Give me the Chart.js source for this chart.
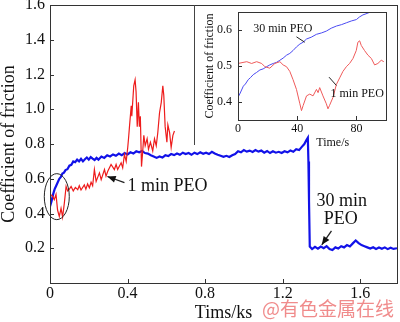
<!DOCTYPE html>
<html>
<head>
<meta charset="utf-8">
<script src="https://cdn.jsdelivr.net/npm/chart.js@4.4.0/dist/chart.umd.min.js"></script>
<style>
  body { margin: 0; background: #fff; }
  #wrap { position: relative; width: 400px; height: 322px; overflow: hidden; }
  #mainChart { position: absolute; left: 0; top: 0; }
  #insetLine { position: absolute; left: 194px; top: 5px; width: 0; height: 140px; border-left: 1px solid #444; }
  #insetChart { position: absolute; left: 195px; top: 6px; }
  #mark { position: absolute; left: 262px; top: 294px; font-size: 19px; font-family: "Noto Sans CJK SC", sans-serif; color: rgba(236, 110, 110, 0.8); white-space: nowrap; }
</style>
</head>
<body>
<div id="wrap">
  <canvas id="mainChart" width="400" height="322"></canvas>
  <div id="insetLine"></div>
  <canvas id="insetChart" width="202" height="143"></canvas>
  <div id="mark">@有色金属在线</div>
</div>
<script>
// main chart: 30 min PEO (blue)
let blueTime = [0.000, 0.008, 0.016, 0.024, 0.032, 0.040, 0.048, 0.056, 0.064, 0.072,
  0.080, 0.090, 0.100, 0.110, 0.120, 0.130, 0.140, 0.150, 0.160, 0.170,
  0.180, 0.190, 0.200, 0.210, 0.220, 0.230, 0.240, 0.250, 0.265, 0.280,
  0.295, 0.310, 0.325, 0.340, 0.355, 0.370, 0.385, 0.400, 0.415, 0.430,
  0.445, 0.460, 0.475, 0.490, 0.505, 0.520, 0.535, 0.550, 0.565, 0.580,
  0.595, 0.610, 0.625, 0.640, 0.655, 0.670, 0.685, 0.700, 0.715, 0.730,
  0.745, 0.760, 0.775, 0.790, 0.805, 0.820, 0.835, 0.850, 0.865, 0.880,
  0.895, 0.910, 0.925, 0.940, 0.955, 0.970, 0.985, 1.000, 1.015, 1.030,
  1.045, 1.060, 1.075, 1.090, 1.105, 1.120, 1.135, 1.150, 1.165, 1.180,
  1.195, 1.210, 1.225, 1.240, 1.255, 1.270, 1.285, 1.300, 1.312, 1.322,
  1.330, 1.333, 1.336, 1.340, 1.352, 1.367, 1.382, 1.397, 1.412, 1.427,
  1.442, 1.457, 1.472, 1.487, 1.502, 1.517, 1.532, 1.547, 1.562, 1.577,
  1.592, 1.607, 1.622, 1.637, 1.652, 1.667, 1.682, 1.697, 1.712, 1.727,
  1.742, 1.757, 1.772, 1.790];
let blueCof = [0.44, 0.47, 0.51, 0.54, 0.56, 0.58, 0.60, 0.61, 0.63, 0.635,
  0.65, 0.655, 0.675, 0.68, 0.70, 0.695, 0.71, 0.70, 0.715, 0.70,
  0.712, 0.722, 0.71, 0.725, 0.716, 0.708, 0.72, 0.71, 0.728, 0.72,
  0.735, 0.728, 0.74, 0.732, 0.745, 0.735, 0.748, 0.74, 0.752, 0.745,
  0.758, 0.752, 0.76, 0.748, 0.745, 0.735, 0.728, 0.72, 0.728, 0.722,
  0.735, 0.73, 0.742, 0.736, 0.745, 0.738, 0.75, 0.742, 0.748, 0.738,
  0.75, 0.742, 0.752, 0.744, 0.75, 0.742, 0.755, 0.745, 0.738, 0.732,
  0.726, 0.732, 0.725, 0.735, 0.742, 0.758, 0.752, 0.765, 0.756, 0.762,
  0.754, 0.765, 0.756, 0.762, 0.75, 0.76, 0.748, 0.758, 0.75, 0.755,
  0.748, 0.758, 0.752, 0.762, 0.755, 0.77, 0.765, 0.785, 0.80, 0.822,
  0.836, 0.70, 0.48, 0.21, 0.195, 0.208, 0.198, 0.21, 0.20, 0.212,
  0.196, 0.19, 0.205, 0.198, 0.212, 0.205, 0.218, 0.21, 0.228, 0.245,
  0.23, 0.218, 0.212, 0.205, 0.198, 0.206, 0.196, 0.204, 0.197, 0.205,
  0.195, 0.203, 0.196, 0.20];

// main chart: 1 min PEO (red)
let redTime = [0.002, 0.013, 0.022, 0.031, 0.039, 0.048, 0.057, 0.065, 0.074, 0.083,
  0.091, 0.100, 0.109, 0.120, 0.131, 0.143, 0.151, 0.160, 0.177, 0.185,
  0.194, 0.203, 0.212, 0.220, 0.229, 0.238, 0.255, 0.264, 0.281, 0.289,
  0.298, 0.315, 0.332, 0.341, 0.349, 0.367, 0.375, 0.384, 0.393, 0.401,
  0.405, 0.410, 0.419, 0.422, 0.432, 0.439, 0.444, 0.450, 0.456, 0.461,
  0.466, 0.472, 0.479, 0.484, 0.491, 0.501, 0.508, 0.518, 0.530, 0.539,
  0.548, 0.556, 0.565, 0.574, 0.582, 0.587, 0.594, 0.603, 0.608, 0.617,
  0.625, 0.634, 0.642];
let redCof = [0.51, 0.50, 0.48, 0.51, 0.42, 0.383, 0.43, 0.38, 0.46, 0.556,
  0.53, 0.54, 0.556, 0.53, 0.55, 0.537, 0.56, 0.535, 0.565, 0.54,
  0.57, 0.548, 0.58, 0.56, 0.653, 0.585, 0.634, 0.595, 0.653, 0.615,
  0.643, 0.682, 0.653, 0.682, 0.653, 0.692, 0.663, 0.74, 0.70, 0.78,
  0.83, 0.90, 1.02, 0.96, 1.135, 1.17, 1.10, 0.90, 1.04, 0.90,
  0.96, 0.67, 0.77, 0.85, 0.79, 0.83, 0.77, 0.81, 0.76, 0.83,
  0.79, 0.865, 0.98, 1.04, 1.135, 1.08, 0.90, 0.81, 0.91, 0.865,
  0.78, 0.85, 0.875];

// inset: first 100 s
let insetBlueTime = [0, 1.5, 3.6, 5, 6.9, 8.5, 10.3, 12.5, 14.8, 17,
  19.3, 21.5, 23.8, 26, 28.3, 30.5, 32.8, 35, 37.2, 39.5,
  41.8, 44, 46.3, 49.5, 53, 56.5, 59.7, 63, 66.5, 70,
  73.2, 76.5, 80, 82, 84.4, 86.5, 88.9, 92, 96, 100];
let insetBlueCof = [0.413, 0.425, 0.444, 0.45, 0.462, 0.468, 0.476, 0.482, 0.489, 0.492,
  0.498, 0.503, 0.507, 0.51, 0.516, 0.522, 0.53, 0.535, 0.543, 0.553,
  0.561, 0.566, 0.575, 0.58, 0.588, 0.592, 0.597, 0.605, 0.611, 0.615,
  0.62, 0.625, 0.629, 0.636, 0.642, 0.645, 0.649, 0.652, 0.655, 0.656];
let insetRedTime = [0, 5.9, 9.2, 12.6, 16, 18.2, 21.5, 24.9, 28.3, 30.5,
  32.8, 35, 37.2, 39.5, 41.8, 42.9, 44, 46.3, 48.5, 50.7,
  53, 54.1, 55.2, 57.4, 59.7, 60.8, 61.8, 64.2, 66.5, 68.7,
  70.9, 73.2, 75.4, 77.7, 79.9, 81, 82.2, 83.3, 85.5, 87.8,
  90.1, 92.3, 94.5, 96.8, 98.5];
let insetRedCof = [0.507, 0.512, 0.507, 0.512, 0.507, 0.498, 0.494, 0.507, 0.512, 0.503,
  0.498, 0.485, 0.462, 0.435, 0.395, 0.376, 0.39, 0.417, 0.422, 0.417,
  0.435, 0.426, 0.44, 0.417, 0.395, 0.381, 0.39, 0.413, 0.449, 0.467,
  0.485, 0.498, 0.507, 0.521, 0.543, 0.566, 0.57, 0.557, 0.543, 0.53,
  0.521, 0.503, 0.507, 0.516, 0.512];

// tick labels
let xTickValues = [0, 0.4, 0.8, 1.2, 1.6];
let xTickLabels = ['0', '0.4', '0.8', '1.2', '1.6'];
let yTickValues = [0.2, 0.4, 0.6, 0.8, 1.0, 1.2, 1.4, 1.6];
let insetXTickValues = [0, 40, 80];
let insetYTickValues = [0.4, 0.5, 0.6];

const serif = 'Liberation Serif';
const ink = '#111';

function toPoints(xs, ys) {
    return xs.map((x, i) => ({ x: x, y: ys[i] }));
}

function drawArrow(ctx, x1, y1, x2, y2, size) {
    let ang = Math.atan2(y2 - y1, x2 - x1);
    ctx.beginPath();
    ctx.moveTo(x1, y1);
    ctx.lineTo(x2, y2);
    ctx.stroke();
    ctx.beginPath();
    ctx.moveTo(x2, y2);
    ctx.lineTo(x2 - size * Math.cos(ang - 0.4), y2 - size * Math.sin(ang - 0.4));
    ctx.lineTo(x2 - size * Math.cos(ang + 0.4), y2 - size * Math.sin(ang + 0.4));
    ctx.closePath();
    ctx.fill();
}

// box round the plot and tick marks pointing inwards
const framePlugin = {
    id: 'frame',
    afterDatasetsDraw(chart, args, opts) {
        const ctx = chart.ctx;
        const a = chart.chartArea;
        const xs = chart.scales.x;
        const ys = chart.scales.y;
        ctx.save();
        ctx.strokeStyle = opts.color;
        ctx.lineWidth = 1;
        ctx.strokeRect(a.left + 0.5, a.top + 0.5, a.right - a.left, a.bottom - a.top);
        ctx.beginPath();
        xs.ticks.forEach(t => {
            let p = Math.round(xs.getPixelForValue(t.value)) + 0.5;
            ctx.moveTo(p, a.bottom);
            ctx.lineTo(p, a.bottom - opts.tick);
        });
        ys.ticks.forEach(t => {
            let p = Math.round(ys.getPixelForValue(t.value)) + 0.5;
            ctx.moveTo(a.left, p);
            ctx.lineTo(a.left + opts.tick, p);
        });
        ctx.stroke();
        ctx.restore();
    }
};

const mainNotes = {
    id: 'mainNotes',
    afterDraw(chart) {
        const ctx = chart.ctx;
        const xs = chart.scales.x;
        const ys = chart.scales.y;
        const px = v => xs.getPixelForValue(v);
        const py = v => ys.getPixelForValue(v);
        ctx.save();
        ctx.strokeStyle = '#222';
        ctx.fillStyle = ink;
        ctx.lineWidth = 1;
        // circle round the start of the curves
        ctx.beginPath();
        ctx.ellipse(px(0.035), py(0.497), 12.5, 23, 0, 0, Math.PI * 2);
        ctx.stroke();
        ctx.font = '18px "' + serif + '"';
        ctx.textBaseline = 'middle';
        ctx.textAlign = 'left';
        ctx.fillText('1 min PEO', px(0.40), py(0.555));
        ctx.lineWidth = 1.3;
        drawArrow(ctx, px(0.384), py(0.578), px(0.296), py(0.613), 9);
        ctx.textAlign = 'center';
        ctx.fillText('30 min', px(1.505), py(0.468));
        ctx.fillText('PEO', px(1.50), py(0.364));
        drawArrow(ctx, px(1.452), py(0.30), px(1.402), py(0.22), 9);
        ctx.restore();
    }
};

const insetNotes = {
    id: 'insetNotes',
    afterDraw(chart) {
        const ctx = chart.ctx;
        const xs = chart.scales.x;
        const ys = chart.scales.y;
        const px = v => xs.getPixelForValue(v);
        const py = v => ys.getPixelForValue(v);
        ctx.save();
        ctx.fillStyle = ink;
        ctx.strokeStyle = '#222';
        ctx.lineWidth = 1;
        ctx.font = '12px "' + serif + '"';
        ctx.textAlign = 'center';
        ctx.textBaseline = 'middle';
        ctx.fillText('30 min PEO', px(30.3), py(0.603));
        ctx.fillText('1 min PEO', px(80.5), py(0.424));
        ctx.beginPath();
        ctx.moveTo(px(39.5), py(0.581));
        ctx.lineTo(px(45.1), py(0.566));
        ctx.moveTo(px(66.5), py(0.446));
        ctx.lineTo(px(61.5), py(0.469));
        ctx.stroke();
        // axis title sits right of centre in the original
        ctx.fillText('Time/s', px(64), chart.chartArea.bottom + 23);
        ctx.restore();
    }
};

function fixTicks(values) {
    return function (scale) {
        scale.ticks = values.map(v => ({ value: v }));
    };
}

new Chart(document.getElementById('mainChart'), {
    type: 'line',
    data: {
        datasets: [{
            label: '1 min PEO',
            data: toPoints(redTime, redCof),
            borderColor: '#ee1c1c',
            borderWidth: 1.2,
            pointRadius: 0,
            tension: 0
        }, {
            label: '30 min PEO',
            data: toPoints(blueTime, blueCof),
            borderColor: '#1212e8',
            borderWidth: 2.2,
            pointRadius: 0,
            tension: 0
        }]
    },
    options: {
        responsive: false,
        animation: false,
        layout: { padding: { top: 5, right: 3, left: 0, bottom: 0 } },
        plugins: {
            legend: { display: false },
            tooltip: { enabled: false },
            frame: { color: '#333', tick: 4 }
        },
        scales: {
            x: {
                type: 'linear',
                min: 0,
                max: 1.79,
                grid: { display: false, drawTicks: false },
                border: { display: false },
                afterBuildTicks: fixTicks(xTickValues),
                afterFit: s => { s.height = 39; s.paddingLeft = 0; s.paddingRight = 0; },
                ticks: {
                    padding: 3,
                    maxRotation: 0,
                    autoSkip: false,
                    color: ink,
                    font: { family: serif, size: 16, lineHeight: 1 },
                    callback: (v, i) => xTickLabels[i]
                },
                title: {
                    display: true,
                    text: 'Tims/ks',
                    color: ink,
                    padding: 0,
                    font: { family: serif, size: 18, lineHeight: 1 }
                }
            },
            y: {
                min: 0,
                max: 1.6,
                grid: { display: false, drawTicks: false },
                border: { display: false },
                afterBuildTicks: fixTicks(yTickValues),
                afterFit: s => { s.width = 50; s.paddingTop = 0; s.paddingBottom = 0; },
                ticks: {
                    padding: 5,
                    autoSkip: false,
                    color: ink,
                    font: { family: serif, size: 16, lineHeight: 1 },
                    callback: v => v.toFixed(1)
                },
                title: {
                    display: true,
                    text: 'Coefficient of friction',
                    color: ink,
                    padding: 0,
                    font: { family: serif, size: 18, lineHeight: 1 }
                }
            }
        }
    },
    plugins: [framePlugin, mainNotes]
});

new Chart(document.getElementById('insetChart'), {
    type: 'line',
    data: {
        datasets: [{
            label: '1 min PEO',
            data: toPoints(insetRedTime, insetRedCof),
            borderColor: '#ef5a5a',
            borderWidth: 1,
            pointRadius: 0,
            tension: 0
        }, {
            label: '30 min PEO',
            data: toPoints(insetBlueTime, insetBlueCof),
            borderColor: '#4a4af2',
            borderWidth: 1,
            pointRadius: 0,
            tension: 0
        }]
    },
    options: {
        responsive: false,
        animation: false,
        layout: { padding: { top: 6, right: 11, left: 0, bottom: 0 } },
        plugins: {
            legend: { display: false },
            tooltip: { enabled: false },
            frame: { color: '#333', tick: 4 }
        },
        scales: {
            x: {
                type: 'linear',
                min: 0,
                max: 100,
                grid: { display: false, drawTicks: false },
                border: { display: false },
                afterBuildTicks: fixTicks(insetXTickValues),
                afterFit: s => { s.height = 29; s.paddingLeft = 0; s.paddingRight = 0; },
                ticks: {
                    padding: 3,
                    maxRotation: 0,
                    autoSkip: false,
                    color: ink,
                    font: { family: serif, size: 12, lineHeight: 1 }
                }
            },
            y: {
                min: 0.35,
                max: 0.65,
                grid: { display: false, drawTicks: false },
                border: { display: false },
                afterBuildTicks: fixTicks(insetYTickValues),
                afterFit: s => { s.width = 43; s.paddingTop = 0; s.paddingBottom = 0; },
                ticks: {
                    padding: 6,
                    autoSkip: false,
                    color: ink,
                    font: { family: serif, size: 12, lineHeight: 1 },
                    callback: v => v.toFixed(1)
                },
                title: {
                    display: true,
                    text: 'Coefficient of friction',
                    color: ink,
                    padding: 9,
                    font: { family: serif, size: 12, lineHeight: 1 }
                }
            }
        }
    },
    plugins: [framePlugin, insetNotes]
});
</script>
</body>
</html>
